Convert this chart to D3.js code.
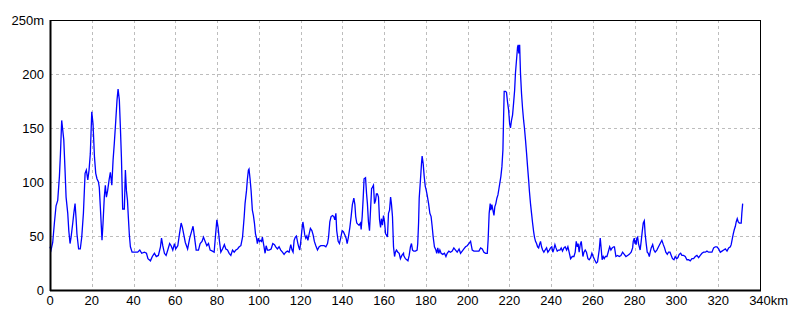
<!DOCTYPE html>
<html>
<head>
<meta charset="utf-8">
<script src="https://cdn.jsdelivr.net/npm/d3@7"></script>
<style>
  html, body { margin: 0; padding: 0; background: #ffffff; }
  svg text { font-family: "Liberation Sans Narrow", "Liberation Sans", sans-serif; font-size: 13px; fill: #000; }
</style>
</head>
<body>
<svg id="chart" width="800" height="320"></svg>
<script>
// distance along route (km)
const distanceKm = [
  0.0,0.5,1.3,2.1,2.9,3.7,4.5,5.0,5.6,6.1,
  6.6,7.2,7.7,8.5,9.0,9.6,10.1,10.9,11.4,12.0,
  12.5,12.9,13.7,14.5,15.2,16.0,16.8,17.4,18.1,18.7,
  19.3,20.0,20.6,21.3,21.9,22.5,23.2,23.6,24.1,24.6,
  24.9,25.4,26.0,26.5,27.0,27.6,28.3,28.9,29.6,30.2,
  30.8,31.5,32.1,32.6,33.2,33.7,34.2,34.8,35.6,36.1,
  36.6,37.1,37.5,38.0,38.5,39.3,40.1,41.1,42.0,43.0,
  43.9,45.2,46.2,46.9,48.1,49.0,50.0,50.9,51.9,52.9,
  53.4,54.0,54.8,55.6,56.4,57.3,58.0,58.8,59.6,60.2,
  61.2,62.0,62.8,63.4,64.0,64.8,65.9,66.9,67.9,68.5,
  69.2,70.0,71.1,71.9,72.8,73.5,74.3,75.1,75.9,76.7,
  77.8,78.6,79.2,79.9,80.5,81.1,81.8,82.6,83.5,
  84.2,85.0,85.8,86.6,87.4,88.2,89.0,89.8,90.6,91.4,
  92.2,93.0,93.4,94.1,94.5,95.0,95.3,95.8,96.3,96.9,
  97.4,97.9,98.4,98.9,99.3,99.8,100.3,100.8,101.3,101.7,
  102.4,103.0,103.5,104.1,104.9,105.9,106.7,107.5,108.1,108.9,
  109.7,110.5,111.3,112.1,112.9,113.7,114.5,115.3,115.9,116.4,
  116.9,117.5,118.0,118.7,119.1,119.6,120.1,120.6,121.1,121.5,
  122.0,122.5,123.0,123.5,124.1,124.7,125.4,126.0,126.6,127.3,
  128.1,128.9,129.7,130.5,131.3,132.1,132.9,133.4,134.0,134.6,
  135.3,135.9,136.4,136.9,137.3,138.0,138.6,139.3,139.9,140.5,
  141.2,141.8,142.3,142.9,143.6,144.2,144.8,145.5,146.0,146.4,
  146.9,147.4,148.0,148.7,149.0,149.5,150.0,150.4,151.1,151.6,
  152.0,152.5,153.0,153.5,154.0,154.4,154.9,155.4,155.9,156.3,
  156.8,157.3,157.8,158.3,158.7,159.2,159.7,160.2,160.7,161.1,
  161.6,162.1,162.6,163.1,163.5,164.0,164.5,165.0,165.4,165.9,
  166.6,167.2,167.8,168.5,169.3,
  169.4,170.2,171.4,172.0,172.6,173.1,173.6,174.2,175.0,175.8,
  176.1,176.5,176.8,177.4,177.9,178.2,178.7,179.2,179.7,180.1,
  180.6,181.3,181.9,182.5,183.0,183.5,184.1,184.8,185.2,185.7,
  186.2,186.7,187.3,188.1,188.9,189.6,190.2,191.0,191.8,192.6,
  193.4,194.2,195.0,195.9,196.6,197.4,198.2,199.0,199.8,200.6,
  201.4,202.2,203.0,203.8,204.6,205.4,206.2,207.0,207.8,208.6,
  209.4,209.8,210.3,210.8,211.1,211.6,212.1,212.6,213.0,213.5,
  214.0,214.5,215.0,215.4,215.9,216.4,216.9,217.2,217.5,218.1,
  218.6,219.1,219.6,220.1,220.5,221.0,221.5,222.0,222.5,222.9,
  223.4,223.9,224.2,224.5,224.9,225.3,225.8,226.3,226.8,227.2,
  227.7,228.2,228.7,229.2,229.6,230.1,230.6,231.1,231.6,232.0,
  232.5,233.0,233.5,234.0,234.4,234.9,235.4,235.9,236.5,237.1,
  237.8,238.4,239.1,239.7,240.3,240.8,241.3,241.8,242.3,242.9,
  243.5,244.2,244.8,245.4,246.1,246.7,247.4,248.0,248.6,249.3,
  250.1,250.9,251.5,252.0,252.5,252.9,253.4,253.9,254.4,
  254.7,255.2,255.7,256.3,256.9,257.6,258.2,258.9,259.5,260.1,
  260.8,261.6,262.2,263.0,263.5,264.0,264.4,264.9,265.4,266.0,
  266.7,267.3,268.0,268.6,269.2,269.9,270.3,271.0,271.8,272.6,
  273.4,274.2,275.0,275.8,276.6,277.4,278.3,279.0,279.3,279.8,
  280.1,280.4,280.7,281.0,281.4,281.8,282.2,282.6,283.1,283.6,
  284.1,284.6,285.0,285.5,286.0,286.5,287.0,287.4,287.9,288.6,
  289.2,289.8,290.6,291.4,292.2,293.0,293.7,294.3,294.9,295.6,
  296.2,296.9,297.5,298.1,298.8,299.4,300.1,300.7,301.3,302.0,
  302.6,303.4,304.2,305.0,305.8,306.6,307.4,308.2,309.0,309.8,
  310.6,311.4,312.2,313.0,313.8,314.6,315.4,316.2,317.0,317.8,
  318.6,319.4,320.2,321.0,321.8,322.6,323.4,324.2,325.0,325.8,
  326.2,326.7,327.2,327.7,328.2,328.6,329.1,329.6,330.1,330.5,
  331.0,331.3,331.7
];
// elevation (m)
const elevationM = [
  40,37,44,62,78,83,105,126,157,148,
  139,111,86,71,55,43,49,62,71,80,
  66,52,38,38,49,71,108,111,102,111,
  126,165,154,123,108,103,100,95,77,58,
  46,62,86,97,86,92,102,109,97,120,
  136,157,176,186,176,151,123,75,75,111,
  92,83,68,51,40,35,35,35,35,37,
  34,35,34,29,27,31,34,31,32,40,
  48,41,34,32,37,43,41,37,43,38,
  41,52,62,58,52,44,38,48,55,59,
  49,37,37,43,45,49,45,41,43,37,
  36,35,49,65,58,46,35,38,42,
  38,37,34,32,37,35,37,38,40,41,
  49,68,80,92,102,111,112,103,92,74,
  69,62,52,48,43,48,45,46,45,49,
  41,34,41,37,37,38,43,42,40,38,
  40,37,35,33,35,36,35,42,37,35,
  46,49,50,43,40,37,45,55,63,58,
  51,48,50,46,52,57,55,51,45,41,
  37,40,41,41,41,40,43,49,63,68,
  69,68,65,71,55,45,43,49,55,54,
  51,48,43,49,58,68,79,85,79,68,
  62,61,60,62,56,68,86,103,104,89,
  80,63,55,74,94,95,97,80,83,89,
  89,86,65,58,66,60,69,63,52,51,
  49,71,74,86,80,68,40,31,35,37,
  35,34,29,32,34,
  32,29,27,32,40,43,37,36,36,37,
  43,62,85,102,117,124,117,105,96,93,
  88,80,71,68,59,49,40,37,34,39,
  34,37,34,33,34,31,34,36,35,36,
  39,37,35,38,34,36,38,40,41,43,
  45,37,36,36,36,36,39,38,35,34,
  34,46,71,80,74,79,74,69,77,80,
  85,88,94,99,105,114,130,159,184,184,
  183,174,167,154,150,157,162,173,185,201,
  213,225,227,219,227,201,182,168,157,150,
  139,127,114,102,91,80,71,62,54,49,
  45,43,40,39,42,45,40,37,35,37,
  39,35,37,39,40,35,38,42,39,36,
  37,37,39,36,39,40,37,40,35,29,
  31,31,35,45,40,43,35,42,45,
  40,31,35,37,35,29,28,30,34,31,
  28,25,26,37,48,37,28,31,29,31,
  31,35,40,37,39,40,40,31,32,31,
  32,35,33,31,32,33,35,39,45,48,
  43,46,42,48,49,43,40,37,45,54,
  62,64,52,43,35,34,31,35,39,42,
  37,35,37,40,43,46,42,39,35,33,
  35,35,32,29,28,31,29,30,33,34,
  32,32,31,28,28,27,29,29,31,32,
  30,32,34,35,35,36,35,35,35,39,
  40,40,38,35,36,37,38,36,39,40,
  42,47,52,56,59,63,66,63,62,62,
  62,71,80
];
const xTicks = [0,20,40,60,80,100,120,140,160,180,200,220,240,260,280,300,320,340];
const yTicks = [0,50,100,150,200,250];
const xUnit = "km";
const yUnit = "m";

const svg = d3.select("#chart");
const x = d3.scaleLinear().domain([0, 340]).range([50, 760]);
const y = d3.scaleLinear().domain([0, 250]).range([290, 20]);

// grid
const grid = svg.append("g").attr("stroke", "#bdbdbd").attr("stroke-width", 1)
  .attr("stroke-dasharray", "3,3").attr("shape-rendering", "crispEdges");
grid.selectAll("line.v").data(xTicks.filter(d => d > 0 && d < 340)).enter().append("line")
  .attr("x1", d => Math.round(x(d)) + 0.5).attr("x2", d => Math.round(x(d)) + 0.5)
  .attr("y1", y(250)).attr("y2", y(0));
grid.selectAll("line.h").data(yTicks.filter(d => d > 0 && d < 250)).enter().append("line")
  .attr("x1", x(0)).attr("x2", x(340))
  .attr("y1", d => Math.round(y(d)) + 0.5).attr("y2", d => Math.round(y(d)) + 0.5);

// data line
const pts = distanceKm.map((d, i) => [d, elevationM[i]]);
svg.append("path").datum(pts)
  .attr("fill", "none").attr("stroke", "#0000ff").attr("stroke-width", 1.3)
  .attr("stroke-linejoin", "miter")
  .attr("d", d3.line().x(d => x(d[0])).y(d => y(d[1])));

// frame
svg.append("rect").attr("x", x(0) + 0.5).attr("y", y(250) + 0.5)
  .attr("width", x(340) - x(0)).attr("height", y(0) - y(250))
  .attr("fill", "none").attr("stroke", "#000").attr("stroke-width", 1)
  .attr("shape-rendering", "crispEdges");
svg.append("line").attr("x1", x(0) + 0.5).attr("x2", x(0) + 0.5).attr("y1", y(250)).attr("y2", y(0) + 1)
  .attr("stroke", "#000").attr("stroke-width", 2);
svg.append("line").attr("x1", x(0)).attr("x2", x(340) + 1).attr("y1", y(0) + 0.5).attr("y2", y(0) + 0.5)
  .attr("stroke", "#000").attr("stroke-width", 2);

// y labels
svg.selectAll("text.yl").data(yTicks).enter().append("text")
  .attr("x", 44).attr("y", d => y(d) + 4.5)
  .attr("text-anchor", "end")
  .text(d => d === 250 ? d + yUnit : d);

// x labels
xTicks.forEach(d => {
  const t = svg.append("text").attr("x", x(d)).attr("y", 305)
    .attr("text-anchor", "middle").text(d);
  if (d === 340) {
    const w = t.node().getComputedTextLength();
    svg.append("text").attr("x", x(d) + w / 2).attr("y", 305).text(xUnit);
  }
});
</script>
</body>
</html>
